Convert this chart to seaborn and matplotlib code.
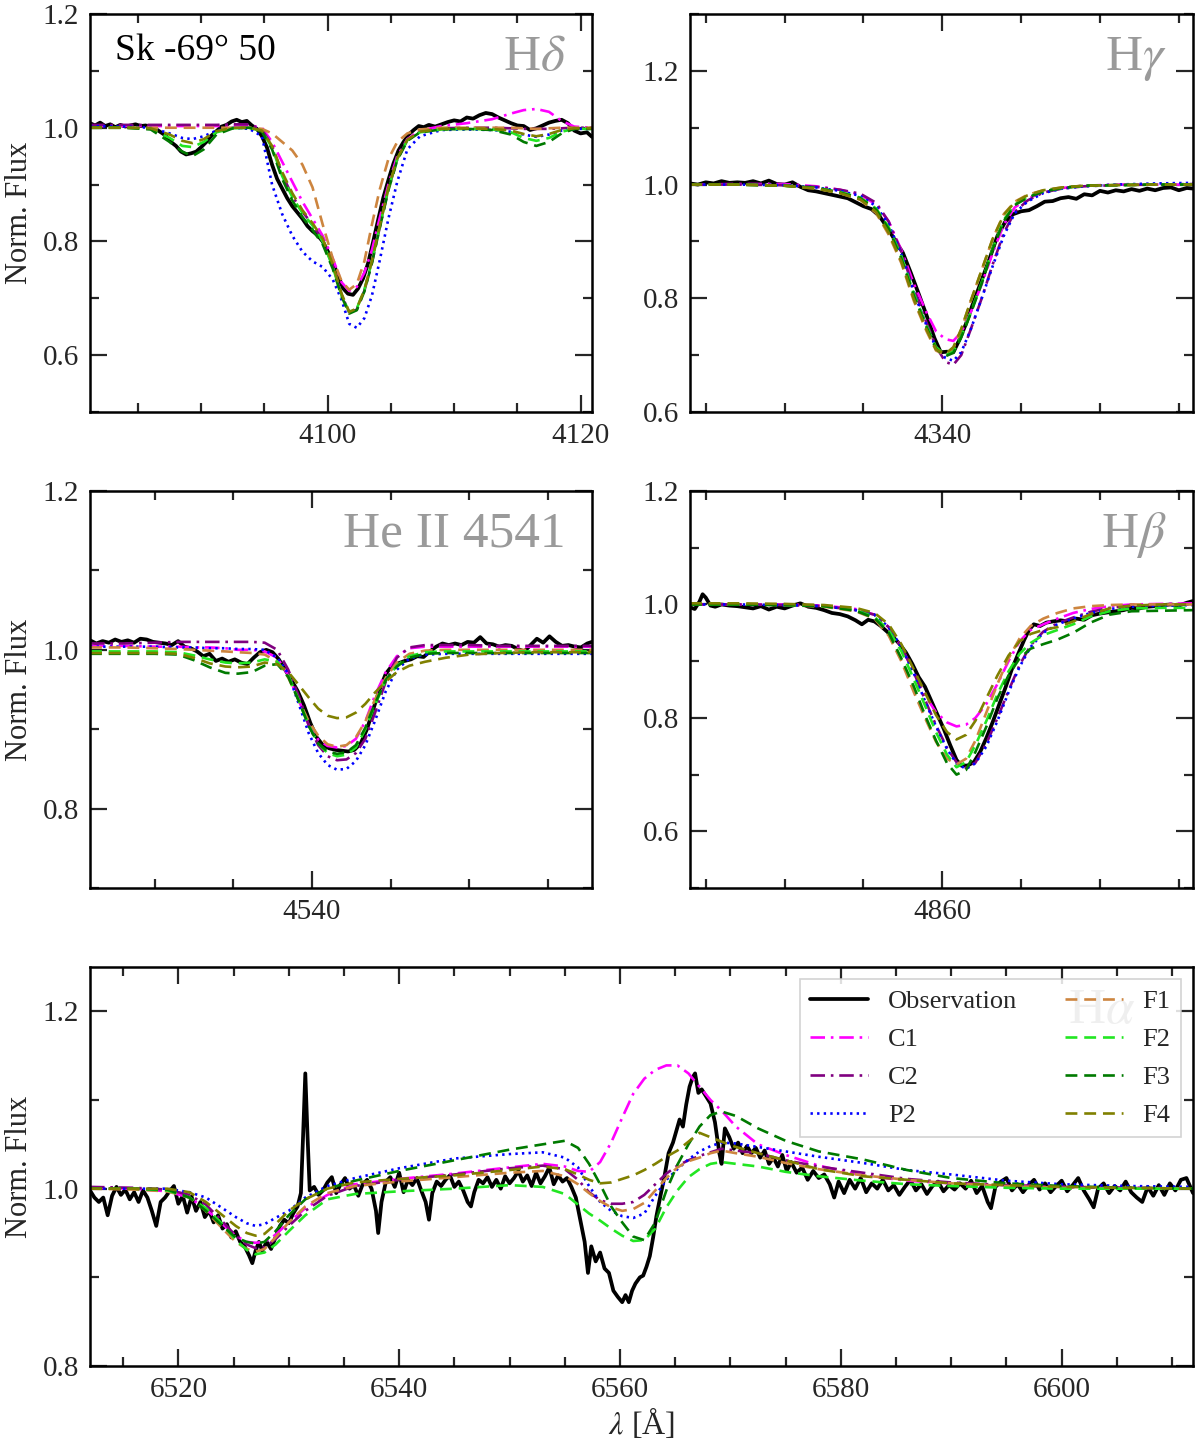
import numpy as np
import matplotlib
matplotlib.use("Agg")
import matplotlib.pyplot as plt
from matplotlib.ticker import MultipleLocator, FormatStrFormatter
import seaborn as sns

# ---------------- H delta ----------------
hd_wave = [4081.2, 4084.0, 4086.0, 4087.5, 4088.5, 4089.3, 4090.2, 4091.2, 4092.5, 4093.8,
           4094.8, 4095.6, 4096.4, 4097.2, 4098.0, 4098.8, 4099.6, 4100.4, 4101.1, 4101.7,
           4102.3, 4102.9, 4103.5, 4104.1, 4104.8, 4105.5, 4106.3, 4107.3, 4109.0, 4111.0,
           4113.0, 4114.5, 4115.5, 4116.5, 4117.5, 4118.5, 4119.5, 4120.9]
hd_c1 = [1.003, 1.003, 1.003, 1.003, 1.003, 1.003, 1.003, 1.003, 1.004, 1.004,
         1.000, 0.975, 0.940, 0.905, 0.870, 0.840, 0.810, 0.770, 0.728, 0.713,
         0.720, 0.745, 0.785, 0.840, 0.900, 0.950, 0.980, 0.995, 1.003, 1.008,
         1.015, 1.025, 1.031, 1.033, 1.028, 1.012, 1.002, 1.000]
hd_c2 = [1.005, 1.005, 1.005, 1.005, 1.005, 1.005, 1.005, 1.005, 1.006, 1.006,
         0.997, 0.968, 0.918, 0.880, 0.852, 0.830, 0.802, 0.757, 0.706, 0.675,
         0.680, 0.713, 0.763, 0.823, 0.892, 0.944, 0.978, 0.993, 0.999, 1.000,
         1.000, 0.999, 0.998, 0.998, 0.998, 0.999, 1.000, 1.000]
hd_p2 = [1.003, 1.002, 1.000, 0.990, 0.982, 0.980, 0.985, 0.995, 1.000, 0.998,
         0.985, 0.900, 0.848, 0.810, 0.782, 0.765, 0.755, 0.733, 0.697, 0.655,
         0.648, 0.665, 0.705, 0.765, 0.840, 0.905, 0.962, 0.985, 0.996, 0.997,
         0.996, 0.993, 0.988, 0.984, 0.988, 0.995, 0.998, 0.998]
hd_f1 = [1.000, 1.000, 1.000, 1.000, 1.000, 1.000, 1.000, 1.000, 1.000, 1.000,
         0.998, 0.990, 0.975, 0.960, 0.935, 0.895, 0.830, 0.770, 0.730, 0.715,
         0.725, 0.765, 0.830, 0.890, 0.945, 0.975, 0.990, 0.997, 1.000, 1.000,
         1.000, 1.000, 0.999, 0.998, 0.999, 1.000, 1.000, 1.000]
hd_f2 = [1.000, 1.000, 0.998, 0.982, 0.968, 0.966, 0.975, 0.992, 0.999, 1.000,
         0.994, 0.965, 0.915, 0.878, 0.850, 0.828, 0.800, 0.755, 0.705, 0.676,
         0.682, 0.715, 0.765, 0.825, 0.893, 0.945, 0.978, 0.992, 0.997, 0.998,
         0.997, 0.992, 0.982, 0.977, 0.982, 0.993, 0.998, 0.998]
hd_f3 = [1.000, 1.000, 0.997, 0.975, 0.958, 0.950, 0.962, 0.988, 0.999, 1.000,
         0.993, 0.962, 0.910, 0.872, 0.843, 0.820, 0.795, 0.752, 0.703, 0.673,
         0.679, 0.712, 0.762, 0.822, 0.890, 0.943, 0.977, 0.992, 0.997, 0.998,
         0.996, 0.988, 0.975, 0.968, 0.975, 0.990, 0.998, 0.998]
hd_f4 = [1.000, 1.000, 0.999, 0.988, 0.977, 0.973, 0.980, 0.994, 1.000, 1.000,
         0.995, 0.968, 0.922, 0.885, 0.855, 0.832, 0.805, 0.760, 0.708, 0.676,
         0.682, 0.715, 0.766, 0.826, 0.894, 0.946, 0.979, 0.993, 0.998, 0.999,
         0.998, 0.995, 0.989, 0.985, 0.989, 0.996, 0.999, 0.999]
hd_obs_wave = [4081.2, 4081.6, 4082.0, 4082.4, 4082.8, 4083.2, 4083.6, 4084.0, 4084.4, 4084.8,
               4085.2, 4085.6, 4086.0, 4086.4, 4086.8, 4087.2, 4087.6, 4088.0, 4088.4, 4088.8,
               4089.2, 4089.6, 4090.0, 4090.4, 4090.8, 4091.2, 4091.6, 4092.0, 4092.4, 4092.8,
               4093.2, 4093.6, 4094.0, 4094.4, 4094.8, 4095.2, 4095.6, 4096.0, 4096.4, 4096.8,
               4097.2, 4097.6, 4098.0, 4098.4, 4098.8, 4099.2, 4099.6, 4100.0, 4100.4, 4100.8,
               4101.2, 4101.6, 4102.0, 4102.4, 4102.8, 4103.2, 4103.6, 4104.0, 4104.4, 4104.8,
               4105.2, 4105.6, 4106.0, 4106.4, 4106.8, 4107.2, 4107.6, 4108.0, 4108.5, 4109.0,
               4109.5, 4110.0, 4110.5, 4111.0, 4111.5, 4112.0, 4112.5, 4113.0, 4113.5, 4114.0,
               4114.5, 4115.0, 4115.5, 4116.0, 4116.5, 4117.0, 4117.5, 4118.0, 4118.5, 4119.0,
               4119.5, 4120.0, 4120.5, 4120.9]
hd_obs_flux = [1.008, 1.004, 1.009, 1.003, 1.006, 1.001, 1.005, 1.002, 1.004, 1.006,
               1.003, 1.004, 1.001, 0.998, 0.992, 0.986, 0.975, 0.968, 0.958, 0.953,
               0.955, 0.958, 0.966, 0.975, 0.986, 0.994, 1.002, 1.005, 1.011, 1.014,
               1.010, 1.012, 1.004, 0.998, 0.985, 0.965, 0.935, 0.910, 0.893, 0.876,
               0.862, 0.851, 0.840, 0.827, 0.818, 0.811, 0.800, 0.783, 0.763, 0.741,
               0.718, 0.708, 0.706, 0.717, 0.735, 0.762, 0.800, 0.839, 0.877, 0.908,
               0.937, 0.960, 0.975, 0.988, 0.996, 1.003, 1.001, 1.005, 1.002, 1.006,
               1.010, 1.013, 1.011, 1.018, 1.016, 1.022, 1.026, 1.024, 1.018, 1.013,
               1.008, 1.004, 1.003, 0.996, 0.999, 1.004, 1.009, 1.012, 1.014, 1.008,
               0.995, 0.990, 0.992, 0.984]

# ---------------- H gamma ----------------
hg_wave = [4324.0, 4327.0, 4330.0, 4332.0, 4333.5, 4334.8, 4335.8, 4336.6, 4337.4, 4338.2,
           4339.0, 4339.6, 4340.2, 4340.7, 4341.2, 4341.8, 4342.5, 4343.2, 4343.9, 4344.6,
           4345.4, 4346.4, 4347.6, 4349.0, 4351.0, 4353.5, 4355.9]
hg_c1 = [1.000, 1.001, 1.001, 0.997, 0.991, 0.982, 0.965, 0.935, 0.885, 0.825,
         0.775, 0.742, 0.728, 0.725, 0.740, 0.775, 0.825, 0.880, 0.930, 0.960,
         0.975, 0.987, 0.994, 0.998, 1.000, 1.000, 1.000]
hg_c2 = [1.000, 1.000, 0.999, 0.996, 0.991, 0.984, 0.968, 0.935, 0.882, 0.815,
         0.757, 0.715, 0.688, 0.683, 0.700, 0.745, 0.800, 0.860, 0.915, 0.952,
         0.972, 0.986, 0.993, 0.997, 0.999, 1.000, 1.001]
hg_p2 = [1.000, 1.000, 0.999, 0.995, 0.989, 0.980, 0.962, 0.930, 0.878, 0.810,
         0.752, 0.713, 0.695, 0.690, 0.705, 0.745, 0.800, 0.857, 0.910, 0.950,
         0.970, 0.985, 0.993, 0.997, 1.000, 1.002, 1.003]
hg_f1 = [1.000, 1.000, 0.998, 0.993, 0.985, 0.973, 0.950, 0.912, 0.862, 0.795,
         0.742, 0.708, 0.700, 0.712, 0.745, 0.795, 0.850, 0.905, 0.948, 0.970,
         0.982, 0.990, 0.995, 0.998, 0.999, 1.000, 1.000]
hg_f2 = [1.000, 1.000, 0.998, 0.994, 0.987, 0.977, 0.958, 0.925, 0.874, 0.808,
         0.752, 0.714, 0.700, 0.706, 0.733, 0.775, 0.828, 0.888, 0.938, 0.965,
         0.978, 0.988, 0.994, 0.998, 0.999, 1.000, 1.000]
hg_f3 = [1.000, 1.000, 0.998, 0.994, 0.986, 0.976, 0.956, 0.922, 0.870, 0.804,
         0.749, 0.711, 0.698, 0.704, 0.731, 0.773, 0.826, 0.886, 0.936, 0.964,
         0.977, 0.988, 0.994, 0.998, 0.999, 1.000, 1.000]
hg_f4 = [1.000, 1.000, 0.998, 0.993, 0.985, 0.974, 0.952, 0.915, 0.865, 0.798,
         0.745, 0.710, 0.702, 0.714, 0.746, 0.795, 0.850, 0.905, 0.947, 0.969,
         0.981, 0.990, 0.995, 0.998, 0.999, 1.000, 1.000]
hg_obs_wave = [4324.0, 4324.5, 4325.0, 4325.5, 4326.0, 4326.5, 4327.0, 4327.5, 4328.0, 4328.5,
               4329.0, 4329.5, 4330.0, 4330.5, 4331.0, 4331.5, 4332.0, 4332.5, 4333.0, 4333.5,
               4334.0, 4334.5, 4335.0, 4335.5, 4336.0, 4336.5, 4337.0, 4337.5, 4338.0, 4338.5,
               4339.0, 4339.5, 4339.9, 4340.3, 4340.7, 4341.1, 4341.5, 4342.0, 4342.5, 4343.0,
               4343.5, 4344.0, 4344.5, 4345.0, 4345.5, 4346.0, 4346.5, 4347.0, 4347.5, 4348.0,
               4348.5, 4349.0, 4349.5, 4350.0, 4350.5, 4351.0, 4351.5, 4352.0, 4352.5, 4353.0,
               4353.5, 4354.0, 4354.5, 4355.0, 4355.5, 4355.9]
hg_obs_flux = [1.002, 1.000, 1.004, 1.002, 1.006, 1.003, 1.004, 1.003, 1.006, 1.002,
               1.007, 1.001, 1.000, 1.004, 0.996, 0.990, 0.988, 0.985, 0.982, 0.979,
               0.976, 0.969, 0.962, 0.957, 0.945, 0.925, 0.902, 0.880, 0.845, 0.808,
               0.770, 0.730, 0.705, 0.706, 0.705, 0.728, 0.755, 0.795, 0.832, 0.870,
               0.910, 0.935, 0.948, 0.953, 0.955, 0.962, 0.970, 0.971, 0.976, 0.978,
               0.975, 0.983, 0.981, 0.989, 0.986, 0.990, 0.988, 0.992, 0.989, 0.993,
               0.990, 0.994, 0.995, 0.990, 0.994, 0.993]

# ---------------- He II 4541 ----------------
he_wave = [4525.9, 4528.0, 4530.0, 4531.5, 4532.5, 4533.5, 4534.5, 4535.3, 4536.2, 4537.0,
           4537.8, 4538.5, 4539.2, 4539.8, 4540.4, 4541.0, 4541.6, 4542.2, 4542.8, 4543.4,
           4544.0, 4544.7, 4545.4, 4546.2, 4547.2, 4548.5, 4550.0, 4552.0, 4554.0, 4556.0,
           4557.8]
he_c1 = [1.005, 1.005, 1.004, 1.004, 1.003, 1.003, 1.002, 1.000, 1.000, 0.998,
         0.990, 0.968, 0.935, 0.905, 0.887, 0.879, 0.877, 0.879, 0.888, 0.910,
         0.942, 0.972, 0.992, 1.002, 1.004, 1.004, 1.004, 1.004, 1.004, 1.004,
         1.004]
he_c2 = [1.008, 1.008, 1.009, 1.010, 1.010, 1.010, 1.010, 1.010, 1.010, 1.009,
         1.000, 0.975, 0.940, 0.905, 0.880, 0.866, 0.861, 0.862, 0.870, 0.888,
         0.920, 0.960, 0.990, 1.003, 1.006, 1.006, 1.006, 1.005, 1.005, 1.005,
         1.005]
he_p2 = [1.004, 1.004, 1.004, 1.003, 1.003, 1.002, 1.002, 1.001, 1.001, 1.000,
         0.990, 0.970, 0.930, 0.895, 0.870, 0.855, 0.849, 0.850, 0.860, 0.880,
         0.910, 0.948, 0.975, 0.989, 0.994, 0.995, 0.995, 0.995, 0.995, 0.995,
         0.995]
he_f1 = [1.003, 1.003, 1.002, 1.001, 1.000, 0.999, 0.998, 0.997, 0.996, 0.994,
         0.985, 0.965, 0.935, 0.910, 0.892, 0.881, 0.878, 0.880, 0.890, 0.910,
         0.937, 0.965, 0.984, 0.995, 0.999, 1.000, 1.000, 1.000, 1.000, 1.000,
         1.000]
he_f2 = [0.998, 0.998, 0.998, 0.997, 0.993, 0.988, 0.984, 0.983, 0.984, 0.988,
         0.985, 0.968, 0.935, 0.905, 0.882, 0.870, 0.866, 0.868, 0.877, 0.900,
         0.930, 0.962, 0.980, 0.992, 0.997, 0.998, 0.998, 0.998, 0.998, 0.998,
         0.998]
he_f3 = [0.995, 0.995, 0.995, 0.994, 0.987, 0.978, 0.971, 0.970, 0.972, 0.980,
         0.982, 0.966, 0.934, 0.904, 0.882, 0.872, 0.869, 0.871, 0.880, 0.902,
         0.932, 0.962, 0.979, 0.990, 0.995, 0.996, 0.996, 0.996, 0.996, 0.996,
         0.996]
he_f4 = [0.996, 0.996, 0.996, 0.995, 0.990, 0.983, 0.979, 0.978, 0.979, 0.984,
         0.982, 0.972, 0.955, 0.940, 0.926, 0.917, 0.914, 0.915, 0.921, 0.932,
         0.946, 0.960, 0.972, 0.980, 0.985, 0.990, 0.994, 0.996, 0.997, 0.997,
         0.997]
he_obs_wave = [4525.9, 4526.3, 4526.7, 4527.1, 4527.5, 4527.9, 4528.3, 4528.7, 4529.1, 4529.5,
               4529.9, 4530.3, 4530.7, 4531.1, 4531.5, 4531.9, 4532.3, 4532.7, 4533.1, 4533.5,
               4533.9, 4534.3, 4534.7, 4535.1, 4535.5, 4535.9, 4536.3, 4536.7, 4537.1, 4537.5,
               4537.9, 4538.3, 4538.7, 4539.1, 4539.5, 4539.9, 4540.3, 4540.7, 4541.1, 4541.5,
               4541.9, 4542.3, 4542.7, 4543.1, 4543.5, 4543.9, 4544.3, 4544.7, 4545.1, 4545.5,
               4545.9, 4546.3, 4546.7, 4547.1, 4547.5, 4547.9, 4548.3, 4548.7, 4549.1, 4549.5,
               4549.9, 4550.3, 4550.7, 4551.1, 4551.5, 4551.9, 4552.3, 4552.7, 4553.1, 4553.5,
               4553.9, 4554.3, 4554.7, 4555.1, 4555.5, 4555.9, 4556.3, 4556.7, 4557.1, 4557.5,
               4557.8]
he_obs_flux = [1.012, 1.008, 1.011, 1.009, 1.013, 1.010, 1.012, 1.009, 1.014, 1.013,
               1.010, 1.009, 1.008, 1.006, 1.011, 1.004, 1.002, 0.998, 0.992, 0.995,
               0.986, 0.989, 0.985, 0.988, 0.984, 0.982, 0.990, 0.997, 1.000, 0.997,
               0.988, 0.975, 0.962, 0.948, 0.930, 0.908, 0.890, 0.880, 0.876, 0.874,
               0.873, 0.872, 0.874, 0.882, 0.900, 0.925, 0.950, 0.970, 0.980, 0.983,
               0.986, 0.988, 0.992, 0.991, 0.998, 1.004, 1.008, 1.006, 1.008, 1.006,
               1.010, 1.009, 1.016, 1.008, 1.007, 1.004, 1.006, 1.005, 1.001, 0.998,
               1.006, 1.014, 1.009, 1.017, 1.010, 1.005, 1.006, 1.004, 1.003, 1.008,
               1.010]

# ---------------- H beta ----------------
hb_wave = [4844.0, 4847.0, 4850.0, 4852.5, 4854.5, 4855.7, 4856.6, 4857.4, 4858.2, 4858.9,
           4859.6, 4860.3, 4860.9, 4861.5, 4862.1, 4862.8, 4863.5, 4864.2, 4864.9, 4865.6,
           4866.4, 4867.3, 4868.3, 4869.4, 4870.6, 4872.0, 4874.0, 4875.9]
hb_c1 = [1.000, 1.000, 1.000, 0.998, 0.992, 0.982, 0.960, 0.925, 0.880, 0.840,
         0.810, 0.792, 0.785, 0.788, 0.800, 0.825, 0.860, 0.900, 0.935, 0.955,
         0.965, 0.975, 0.985, 0.992, 0.997, 1.000, 1.001, 1.002]
hb_c2 = [1.000, 1.000, 0.999, 0.997, 0.990, 0.982, 0.960, 0.926, 0.880, 0.832,
         0.787, 0.747, 0.722, 0.712, 0.721, 0.755, 0.800, 0.848, 0.893, 0.928,
         0.952, 0.967, 0.977, 0.987, 0.994, 0.998, 0.999, 1.000]
hb_p2 = [1.000, 1.000, 0.999, 0.997, 0.990, 0.982, 0.960, 0.925, 0.878, 0.830,
         0.785, 0.745, 0.720, 0.710, 0.720, 0.750, 0.795, 0.845, 0.890, 0.925,
         0.950, 0.965, 0.975, 0.985, 0.992, 0.996, 0.998, 0.999]
hb_f1 = [1.000, 1.000, 0.999, 0.996, 0.988, 0.975, 0.945, 0.900, 0.845, 0.800,
         0.758, 0.728, 0.718, 0.728, 0.760, 0.810, 0.860, 0.905, 0.940, 0.962,
         0.975, 0.985, 0.993, 0.997, 0.999, 1.000, 1.000, 1.000]
hb_f2 = [1.000, 1.000, 0.999, 0.997, 0.990, 0.978, 0.955, 0.918, 0.868, 0.822,
         0.775, 0.735, 0.713, 0.722, 0.752, 0.795, 0.842, 0.882, 0.913, 0.932,
         0.946, 0.955, 0.965, 0.979, 0.988, 0.993, 0.994, 0.994]
hb_f3 = [1.000, 1.000, 0.999, 0.997, 0.989, 0.976, 0.950, 0.905, 0.855, 0.805,
         0.760, 0.720, 0.700, 0.708, 0.740, 0.785, 0.835, 0.875, 0.905, 0.922,
         0.930, 0.938, 0.950, 0.968, 0.982, 0.988, 0.989, 0.990]
hb_f4 = [1.002, 1.002, 1.001, 0.999, 0.994, 0.985, 0.965, 0.930, 0.885, 0.845,
         0.805, 0.775, 0.762, 0.770, 0.795, 0.835, 0.875, 0.910, 0.935, 0.948,
         0.955, 0.960, 0.970, 0.983, 0.993, 0.998, 1.000, 1.000]
hb_obs_wave = [4844.0, 4844.3, 4844.6, 4844.8, 4845.0, 4845.3, 4845.6, 4846.0, 4846.5, 4847.0,
               4847.5, 4848.0, 4848.5, 4849.0, 4849.5, 4850.0, 4850.5, 4851.0, 4851.5, 4852.0,
               4852.5, 4853.0, 4853.5, 4854.0, 4854.5, 4854.9, 4855.3, 4855.7, 4856.1, 4856.5,
               4856.9, 4857.3, 4857.7, 4858.1, 4858.5, 4858.9, 4859.3, 4859.7, 4860.1, 4860.5,
               4860.9, 4861.2, 4861.6, 4862.0, 4862.4, 4862.8, 4863.2, 4863.6, 4864.0, 4864.4,
               4864.8, 4865.2, 4865.5, 4865.8, 4866.2, 4866.6, 4867.0, 4867.5, 4868.0, 4868.5,
               4869.0, 4869.5, 4870.0, 4870.5, 4871.0, 4871.5, 4872.0, 4872.5, 4873.0, 4873.5,
               4874.0, 4874.5, 4875.0, 4875.5, 4875.9]
hb_obs_flux = [0.995, 0.992, 1.005, 1.018, 1.012, 0.998, 0.996, 1.000, 0.998, 0.997,
               0.995, 0.993, 0.997, 0.991, 0.996, 0.993, 0.998, 1.002, 0.996, 0.994,
               0.990, 0.985, 0.983, 0.979, 0.972, 0.965, 0.973, 0.970, 0.962, 0.952,
               0.942, 0.930, 0.915, 0.895, 0.872, 0.855, 0.830, 0.805, 0.780, 0.752,
               0.726, 0.716, 0.716, 0.722, 0.740, 0.765, 0.793, 0.823, 0.853, 0.885,
               0.912, 0.938, 0.955, 0.965, 0.962, 0.968, 0.970, 0.972, 0.970, 0.975,
               0.973, 0.981, 0.984, 0.986, 0.988, 0.990, 0.994, 0.993, 0.996, 0.997,
               0.999, 1.000, 0.998, 1.003, 1.006]

# ---------------- H alpha ----------------
ha_wave = [6512.0, 6516.0, 6519.0, 6521.0, 6522.5, 6524.0, 6525.2, 6526.2, 6527.0, 6527.8,
           6528.8, 6530.0, 6531.5, 6533.5, 6536.0, 6540.0, 6545.0, 6550.0, 6553.0, 6555.0,
           6556.2, 6557.2, 6558.2, 6559.2, 6560.2, 6561.2, 6562.2, 6563.2, 6564.2, 6565.2,
           6566.2, 6567.2, 6568.2, 6569.2, 6570.5, 6572.5, 6575.0, 6578.0, 6582.0, 6586.0,
           6590.0, 6595.0, 6600.0, 6606.0, 6612.0]
ha_c1 = [1.001, 1.000, 0.997, 0.990, 0.977, 0.960, 0.947, 0.940, 0.939, 0.940,
         0.948, 0.962, 0.978, 0.993, 1.005, 1.011, 1.017, 1.024, 1.028, 1.025,
         1.020, 1.019, 1.030, 1.052, 1.080, 1.107, 1.124, 1.134, 1.139, 1.139,
         1.130, 1.115, 1.100, 1.088, 1.070, 1.050, 1.038, 1.026, 1.015, 1.009,
         1.006, 1.004, 1.002, 1.001, 1.000]
ha_c2 = [1.002, 1.001, 0.999, 0.993, 0.982, 0.963, 0.947, 0.937, 0.933, 0.934,
         0.943, 0.958, 0.975, 0.992, 1.003, 1.010, 1.016, 1.023, 1.026, 1.022,
         1.010, 0.996, 0.987, 0.983, 0.983, 0.985, 0.993, 1.005, 1.017, 1.026,
         1.032, 1.037, 1.041, 1.045, 1.043, 1.040, 1.032, 1.025, 1.018, 1.011,
         1.007, 1.004, 1.002, 1.001, 1.000]
ha_p2 = [1.000, 1.000, 1.000, 0.996, 0.990, 0.978, 0.968, 0.961, 0.958, 0.960,
         0.967, 0.975, 0.990, 1.003, 1.012, 1.023, 1.034, 1.039, 1.041, 1.035,
         1.024, 1.003, 0.985, 0.975, 0.969, 0.967, 0.972, 0.992, 1.010, 1.022,
         1.033, 1.042, 1.048, 1.052, 1.051, 1.047, 1.042, 1.036, 1.029, 1.021,
         1.016, 1.009, 1.005, 1.003, 1.002]
ha_f1 = [1.000, 0.999, 0.997, 0.990, 0.975, 0.955, 0.940, 0.932, 0.929, 0.932,
         0.945, 0.962, 0.980, 0.995, 1.003, 1.008, 1.013, 1.018, 1.020, 1.014,
         1.005, 0.995, 0.986, 0.979, 0.975, 0.977, 0.984, 0.998, 1.012, 1.024,
         1.031, 1.035, 1.040, 1.043, 1.040, 1.036, 1.029, 1.022, 1.015, 1.010,
         1.006, 1.003, 1.001, 1.000, 1.000]
ha_f2 = [1.000, 1.000, 0.998, 0.990, 0.978, 0.960, 0.942, 0.931, 0.926, 0.928,
         0.937, 0.952, 0.970, 0.988, 0.994, 0.997, 1.000, 1.004, 1.002, 0.994,
         0.982, 0.972, 0.964, 0.955, 0.947, 0.941, 0.942, 0.955, 0.979, 0.998,
         1.013, 1.022, 1.028, 1.030, 1.028, 1.025, 1.019, 1.014, 1.009, 1.005,
         1.003, 1.001, 1.000, 1.000, 1.000]
ha_f3 = [1.000, 1.000, 0.999, 0.990, 0.975, 0.958, 0.945, 0.940, 0.938, 0.940,
         0.952, 0.970, 0.988, 1.000, 1.009, 1.020, 1.032, 1.044, 1.050, 1.054,
         1.046, 1.028, 1.005, 0.980, 0.962, 0.946, 0.942, 0.962, 0.998, 1.027,
         1.050, 1.070, 1.083, 1.087, 1.082, 1.068, 1.054, 1.042, 1.033, 1.021,
         1.012, 1.006, 1.003, 1.001, 1.000]
ha_f4 = [1.000, 1.000, 1.000, 0.996, 0.985, 0.970, 0.958, 0.950, 0.947, 0.949,
         0.960, 0.975, 0.988, 1.000, 1.007, 1.011, 1.015, 1.021, 1.025, 1.022,
         1.016, 1.010, 1.006, 1.007, 1.011, 1.015, 1.021, 1.028, 1.036, 1.043,
         1.053, 1.063, 1.058, 1.053, 1.047, 1.040, 1.032, 1.022, 1.014, 1.010,
         1.006, 1.004, 1.002, 1.001, 1.000]
ha_obs_wave = [6512.0, 6512.4, 6512.8, 6513.2, 6513.6, 6514.0, 6514.4, 6514.8, 6515.2, 6515.6,
               6516.0, 6516.4, 6516.8, 6517.2, 6517.6, 6518.0, 6518.4, 6518.8, 6519.2, 6519.6,
               6520.0, 6520.4, 6520.8, 6521.2, 6521.6, 6522.0, 6522.4, 6522.8, 6523.2, 6523.6,
               6524.0, 6524.4, 6524.8, 6525.2, 6525.6, 6526.0, 6526.4, 6526.7, 6527.0, 6527.3,
               6527.6, 6528.0, 6528.4, 6528.8, 6529.2, 6529.6, 6530.0, 6530.4, 6530.8, 6531.1,
               6531.3, 6531.5, 6531.7, 6531.9, 6532.3, 6532.7, 6533.1, 6533.5, 6533.9, 6534.3,
               6534.7, 6535.1, 6535.5, 6535.9, 6536.3, 6536.7, 6537.1, 6537.5, 6537.9, 6538.1,
               6538.4, 6538.8, 6539.2, 6539.6, 6540.0, 6540.4, 6540.8, 6541.2, 6541.6, 6542.0,
               6542.4, 6542.7, 6543.0, 6543.4, 6543.8, 6544.2, 6544.6, 6545.0, 6545.4, 6545.8,
               6546.2, 6546.5, 6546.8, 6547.2, 6547.6, 6548.0, 6548.4, 6548.8, 6549.2, 6549.6,
               6550.0, 6550.4, 6550.8, 6551.2, 6551.6, 6552.0, 6552.4, 6552.8, 6553.2, 6553.6,
               6554.0, 6554.4, 6554.8, 6555.2, 6555.6, 6556.0, 6556.4, 6556.8, 6557.1, 6557.4,
               6557.8, 6558.2, 6558.6, 6559.0, 6559.4, 6559.8, 6560.2, 6560.5, 6560.8, 6561.1,
               6561.4, 6561.8, 6562.1, 6562.4, 6562.7, 6563.0, 6563.3, 6563.6, 6564.0, 6564.4,
               6564.8, 6565.1, 6565.4, 6565.7, 6566.0, 6566.3, 6566.6, 6566.8, 6567.1, 6567.4,
               6567.8, 6568.2, 6568.6, 6569.0, 6569.2, 6569.5, 6569.9, 6570.3, 6570.7, 6571.1,
               6571.5, 6571.9, 6572.3, 6572.7, 6573.1, 6573.5, 6573.9, 6574.3, 6574.7, 6575.1,
               6575.5, 6576.0, 6576.5, 6577.0, 6577.5, 6578.0, 6578.5, 6579.0, 6579.4, 6579.8,
               6580.3, 6580.8, 6581.3, 6581.8, 6582.3, 6582.8, 6583.3, 6583.8, 6584.3, 6584.8,
               6585.3, 6585.8, 6586.3, 6586.8, 6587.3, 6587.8, 6588.3, 6588.8, 6589.3, 6589.8,
               6590.3, 6590.8, 6591.3, 6591.8, 6592.3, 6592.8, 6593.3, 6593.6, 6594.0, 6594.5,
               6595.0, 6595.5, 6596.0, 6596.5, 6597.0, 6597.5, 6598.0, 6598.5, 6599.0, 6599.5,
               6600.0, 6600.5, 6601.0, 6601.5, 6602.0, 6602.5, 6602.9, 6603.3, 6603.8, 6604.3,
               6604.8, 6605.3, 6605.8, 6606.3, 6606.8, 6607.3, 6607.8, 6608.3, 6608.8, 6609.3,
               6609.8, 6610.3, 6610.8, 6611.3, 6611.9]
ha_obs_flux = [0.998, 0.990, 0.985, 0.990, 0.970, 0.992, 1.002, 0.993, 0.999, 0.988,
               0.996, 0.985, 0.998, 0.990, 0.975, 0.958, 0.985, 0.990, 0.997, 1.003,
               0.983, 0.992, 0.973, 0.991, 0.975, 0.985, 0.968, 0.975, 0.962, 0.970,
               0.955, 0.960, 0.945, 0.952, 0.940, 0.935, 0.925, 0.916, 0.930, 0.940,
               0.930, 0.940, 0.932, 0.945, 0.958, 0.965, 0.961, 0.972, 0.980, 0.995,
               1.060, 1.130, 1.060, 0.998, 1.002, 0.993, 0.998, 1.007, 1.013, 0.995,
               1.005, 1.012, 1.000, 1.004, 0.992, 1.005, 1.010, 1.000, 0.975, 0.950,
               0.985, 1.008, 1.013, 1.002, 1.018, 0.996, 1.010, 1.004, 1.012, 0.998,
               0.985, 0.965, 0.995, 1.008, 1.003, 1.010, 1.015, 1.002, 1.008, 0.998,
               0.985, 0.980, 0.996, 1.010, 1.006, 1.013, 1.002, 1.010, 1.000, 1.014,
               1.006, 1.012, 1.020, 1.008, 1.015, 1.003, 1.018, 1.006, 1.014, 1.024,
               1.005, 1.015, 1.008, 1.012, 1.002, 0.990, 0.965, 0.940, 0.905, 0.935,
               0.918, 0.928, 0.910, 0.905, 0.885, 0.878, 0.872, 0.880, 0.872, 0.885,
               0.893, 0.900, 0.902, 0.912, 0.924, 0.945, 0.969, 0.988, 1.012, 1.040,
               1.052, 1.065, 1.078, 1.070, 1.095, 1.115, 1.126, 1.130, 1.108, 1.112,
               1.104, 1.096, 1.075, 1.040, 1.028, 1.068, 1.058, 1.045, 1.052, 1.040,
               1.048, 1.040, 1.046, 1.035, 1.043, 1.028, 1.035, 1.025, 1.038, 1.020,
               1.030, 1.018, 1.024, 1.010, 1.020, 1.012, 1.016, 1.005, 0.990, 1.008,
               0.995, 1.010, 1.000, 1.012, 0.996, 1.006, 1.000, 1.010, 0.998, 1.004,
               0.993, 1.002, 1.010, 0.998, 1.005, 0.994, 1.003, 1.008, 0.997, 1.004,
               0.999, 1.006, 1.000, 1.009, 0.995, 1.003, 0.985, 0.978, 1.002, 1.008,
               1.012, 0.998, 1.005, 0.996, 1.004, 1.010, 0.999, 1.006, 0.996, 1.003,
               1.009, 0.997, 1.004, 1.012, 0.998, 0.988, 0.979, 1.000, 1.006, 0.995,
               1.003, 0.998, 1.008, 0.996, 0.990, 0.985, 1.002, 0.992, 1.004, 0.993,
               1.006, 0.998, 1.010, 1.012, 0.995]

MODEL_NAMES = ["C1", "C2", "P2", "F1", "F2", "F3", "F4"]
MODEL_COLORS = ["#ff00ff", "#800080", "#0000ff", "#cd853f", "#22e622", "#007a00", "#808000"]
MODEL_STYLES = [(0, (5.5, 2.2, 1.0, 2.2)), (0, (5.5, 2.2, 1.0, 2.2)), (0, (0.9, 1.6)),
                (0, (4.5, 2.6)), (0, (4.5, 2.6)), (0, (4.5, 2.6)), (0, (4.5, 2.6))]

sns.set_theme(style="ticks")
plt.rcParams["font.family"] = ["Liberation Serif", "DejaVu Serif"]
plt.rcParams["mathtext.fontset"] = "stix"

GRAY = "#9a9a9a"

fig = plt.figure(figsize=(12, 14.48), dpi=100)
ax_hd = fig.add_axes([0.075, 0.7155, 0.4183, 0.2748])
ax_hg = fig.add_axes([0.575, 0.7155, 0.4192, 0.2748])
ax_he = fig.add_axes([0.075, 0.3867, 0.4183, 0.2742])
ax_hb = fig.add_axes([0.575, 0.3867, 0.4192, 0.2742])
ax_ha = fig.add_axes([0.075, 0.0566, 0.9192, 0.2756])


def draw_panel(ax, wave, models, obs_wave, obs_flux, labels=False):
    sns.lineplot(x=obs_wave, y=obs_flux, ax=ax, color="black", lw=2.7,
                 estimator=None, errorbar=None,
                 label="Observation" if labels else None)
    for name, flux, col, ls in zip(MODEL_NAMES, models, MODEL_COLORS, MODEL_STYLES):
        sns.lineplot(x=wave, y=flux, ax=ax, color=col, lw=1.9, linestyle=ls,
                     estimator=None, errorbar=None,
                     label=name if labels else None)


def style_axis(ax, xlim, ylim):
    ax.set_xlim(*xlim)
    ax.set_ylim(*ylim)
    ax.xaxis.set_major_locator(MultipleLocator(20))
    ax.xaxis.set_minor_locator(MultipleLocator(5))
    ax.yaxis.set_major_locator(MultipleLocator(0.2))
    ax.yaxis.set_minor_locator(MultipleLocator(0.1))
    ax.yaxis.set_major_formatter(FormatStrFormatter("%.1f"))
    ax.tick_params(which="both", direction="in", top=True, right=True, width=1.6)
    ax.tick_params(which="major", length=12, labelsize=21, pad=8)
    ax.tick_params(which="minor", length=6.5)
    for sp in ax.spines.values():
        sp.set_linewidth(1.8)
        sp.set_color("black")
    ax.set_xlabel("")
    ax.set_ylabel("")


draw_panel(ax_hd, hd_wave, [hd_c1, hd_c2, hd_p2, hd_f1, hd_f2, hd_f3, hd_f4],
           hd_obs_wave, hd_obs_flux)
draw_panel(ax_hg, hg_wave, [hg_c1, hg_c2, hg_p2, hg_f1, hg_f2, hg_f3, hg_f4],
           hg_obs_wave, hg_obs_flux)
draw_panel(ax_he, he_wave, [he_c1, he_c2, he_p2, he_f1, he_f2, he_f3, he_f4],
           he_obs_wave, he_obs_flux)
draw_panel(ax_hb, hb_wave, [hb_c1, hb_c2, hb_p2, hb_f1, hb_f2, hb_f3, hb_f4],
           hb_obs_wave, hb_obs_flux)
draw_panel(ax_ha, ha_wave, [ha_c1, ha_c2, ha_p2, ha_f1, ha_f2, ha_f3, ha_f4],
           ha_obs_wave, ha_obs_flux, labels=True)

style_axis(ax_hd, (4081.2, 4120.9), (0.5, 1.2))
style_axis(ax_hg, (4324.0, 4355.9), (0.6, 1.3))
style_axis(ax_he, (4525.9, 4557.8), (0.7, 1.2))
style_axis(ax_hb, (4844.0, 4875.9), (0.5, 1.2))
style_axis(ax_ha, (6512.0, 6611.9), (0.8, 1.25))

# panel labels
for ax, txt in [(ax_hd, r"H$\delta$"), (ax_hg, r"H$\gamma$"), (ax_he, "He II 4541"),
                (ax_hb, r"H$\beta$"), (ax_ha, r"H$\alpha$")]:
    ax.text(0.948, 0.86, txt, transform=ax.transAxes, ha="right", va="baseline",
            fontsize=37, color=GRAY, zorder=2)
ax_hd.text(0.05, 0.884, "Sk -69° 50", transform=ax_hd.transAxes, ha="left",
           va="baseline", fontsize=27, color="black")

for ax in (ax_hd, ax_he):
    ax.set_ylabel("Norm. Flux", fontsize=22)
    ax.yaxis.set_label_coords(-0.111, 0.5)
ax_ha.set_ylabel("Norm. Flux", fontsize=22)
ax_ha.yaxis.set_label_coords(-0.051, 0.5)
ax_ha.set_xlabel(r"$\lambda$ [Å]", fontsize=23, labelpad=2)

leg = ax_ha.legend(loc="upper right", ncol=2, fontsize=19, frameon=True, fancybox=False,
                   edgecolor="0.8", framealpha=0.85, handlelength=2.2, handletextpad=0.75,
                   columnspacing=1.8, labelspacing=0.55, borderaxespad=0.45)
leg.get_frame().set_linewidth(1.2)
leg.set_zorder(5)

fig.savefig("out.png", dpi=100)
